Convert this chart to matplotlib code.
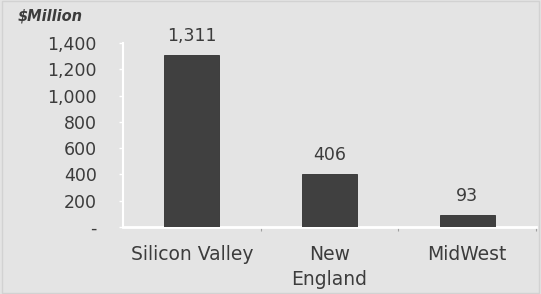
import matplotlib
matplotlib.use("Agg")
import matplotlib.pyplot as plt
from matplotlib.ticker import FuncFormatter, FixedLocator

categories = ["Silicon Valley", "New\nEngland", "MidWest"]
values = [1311, 406, 93]
yticks = [0, 200, 400, 600, 800, 1000, 1200, 1400]

bg = "#e4e4e4"
txt = "#3c3c3c"
bar_c = "#404040"
plt.rcParams['font.family'] = ['DejaVu Sans']

fig = plt.figure(figsize=(5.41, 2.94), dpi=100, facecolor=bg)
ax = fig.add_axes([123/541, 1-227/294, (536-123)/541, (227-43)/294])
ax.set_facecolor(bg)

x = list(range(len(categories)))
ax.bar(x, values, width=0.4, color=bar_c, edgecolor="#303030", linewidth=0.6, zorder=3)
ax.set_xlim(-0.5, len(categories)-0.5)
ax.set_ylim(0, 1400)

for xi, v in zip(x, values):
    ax.annotate(f"{v:,}", (xi, v), xytext=(0, 7), textcoords="offset points",
                ha="center", va="bottom", fontsize=12.5, color=txt)

ax.yaxis.set_major_locator(FixedLocator(yticks))
ax.yaxis.set_major_formatter(FuncFormatter(lambda v, p: "-" if v == 0 else f"{int(v):,}"))
ax.tick_params(axis="y", colors="white", labelcolor=txt, labelsize=12.5, length=3, width=1, pad=16)
ax.set_xticks(x)
ax.set_xticklabels(categories, fontsize=13.5, color=txt, linespacing=1.4)
ax.tick_params(axis="x", length=0, pad=13)
ax.set_xticks([0.5, 1.5, 2.5], minor=True)
ax.tick_params(axis="x", which="minor", length=3, color="#a0a0a0", width=0.8)

for s in ["top", "right"]:
    ax.spines[s].set_visible(False)
ax.spines["left"].set_color("white")
ax.spines["bottom"].set_color("white")
ax.spines["left"].set_linewidth(1.5)
ax.spines["bottom"].set_linewidth(2)

fig.text(18/541, 1-16/294, "$Million", fontsize=10.5, fontweight="bold", style="italic",
         color=txt, ha="left", va="center")

fig.patches.append(plt.Rectangle((0.003, 0.003), 0.994, 0.994, transform=fig.transFigure,
                                 fill=False, edgecolor="#d2d2d2", linewidth=1))

fig.savefig("out.png", dpi=100, facecolor=bg)
